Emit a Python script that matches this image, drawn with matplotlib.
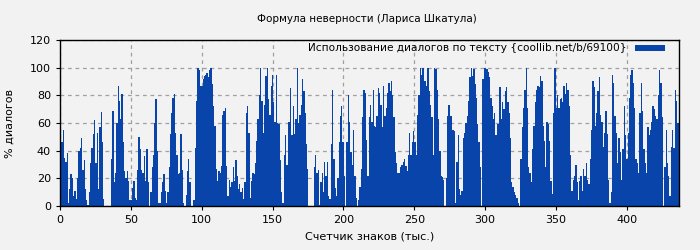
import matplotlib
matplotlib.use("Agg")
import matplotlib.pyplot as plt
import numpy as np

title = "Формула неверности (Лариса Шкатула)"
xlabel = "Счетчик знаков (тыс.)"
ylabel = "% диалогов"
legend_label = "Использование диалогов по тексту {coollib.net/b/69100}"
x_max = 436.5

seg1 = [30,46,55,35,32,38,2,12,23,20,7,11,5,20,40,42,49,26,33,12,4,1,10,31,42,52,62,31,53,12,57,68,46,5,
        0,0,0,0,0,34,69,17,24,60,87,76,63,81,46,25,20,25,18,4,4,13,18,6,4,26,50,41,26,24,36,18,41]
seg2 = [17,0,10,28,37,60,77,40,2,2,10,17,23,11,2,10,28,52,67,78,81,53,37,23,24,52,26,2,0,8,25,34,17,0,0,
        4,42,76,100,98,87,87,92,94,95,96,93,98,100,88,72,58,27,18,25,24,29,66,69,71,29,7,19,14,17,28,18,33,22]
seg3 = [12,16,10,13,5,17,67,72,53,6,18,24,23,31,47,63,80,100,76,53,73,94,100,77,66,87,95,75,61,95,60,59,33,10,2,
        37,51,30,61,61,85,51,72,52,63,100,60,66,73,92,83,67,45,27,0,0,0,0,28,37,24,26,1,17,24,10,32]
seg4 = [22,32,7,5,45,84,34,13,7,20,46,65,72,46,22,0,46,80,61,39,30,55,22,6,0,4,14,27,64,84,82,48,22,64,73,61,
        84,58,57,65,85,82,73,57,87,65,71,82,89,83,90,80,64,39,31,24,24,28,30,32,34,29,25,37,53,37,46]
seg5 = [54,46,37,66,80,100,95,100,90,90,87,100,83,73,64,37,100,99,84,63,40,22,21,19,0,20,65,73,65,65,55,54,2,
        32,51,12,8,11,49,53,60,65,76,93,100,94,99,88,78,59,46,28,0,92,100,100,99,97,93,78,72,63,67,51,59,59,86]
seg6 = [63,75,70,83,86,75,67,49,17,14,10,8,6,2,0,34,57,71,84,100,71,28,24,17,41,58,75,84,87,86,94,90,58,47,28,
        61,59,47,18,9,67,100,71,80,71,77,78,75,87,81,89,84,72,37,11,19,22,30,17,4,18,22,11,27,22,31,19]
seg7 = [16,34,55,90,86,58,67,83,93,66,61,43,53,69,52,19,2,10,95,89,65,53,31,49,39,19,41,72,51,34,53,78,95,98,
        89,71,34,31,24,67,89,69,41,31,24,57,51,55,61,72,70,65,63,80,98,89,64,0,28,55,31,22,7,43,55,42,84,76,60]

values = np.array(seg1 + seg2 + seg3 + seg4 + seg5 + seg6 + seg7, dtype=float)

bg = "#f2f2f2"
bar_color = "#0844aa"

fig = plt.figure(figsize=(7, 2.5), dpi=100, facecolor=bg)
ax = fig.add_axes([0.0857, 0.176, 0.8837, 0.664], facecolor=bg)

step = x_max / len(values)
xs = np.arange(len(values)) * step
ax.bar(xs, values, width=step, align="edge", color=bar_color, linewidth=0,
       label=legend_label, zorder=2)

ax.set_xlim(0, x_max)
ax.set_ylim(0, 120)
ax.set_xticks(np.arange(0, 401, 50))
ax.set_yticks(np.arange(0, 121, 20))
ax.grid(True, linestyle=(0, (3, 3)), color="#a0a0a0", linewidth=0.9, zorder=1)
ax.set_axisbelow(True)
ax.tick_params(labelsize=8, length=3, direction="out")
for s in ax.spines.values():
    s.set_linewidth(1.0)

ax.set_xlabel(xlabel, fontsize=8, labelpad=5)
ax.set_ylabel(ylabel, fontsize=8, labelpad=11)
fig.text(0.524, 0.925, title, ha="center", va="center", fontsize=7.5)

leg = ax.legend(loc="upper right", bbox_to_anchor=(0.992, 1.03), frameon=False,
                fontsize=7.6, markerfirst=False,
                handlelength=2.9, handleheight=0.5, handletextpad=0.8,
                borderaxespad=0.6, borderpad=0.2)

fig.savefig("out.png", dpi=100, facecolor=bg)
